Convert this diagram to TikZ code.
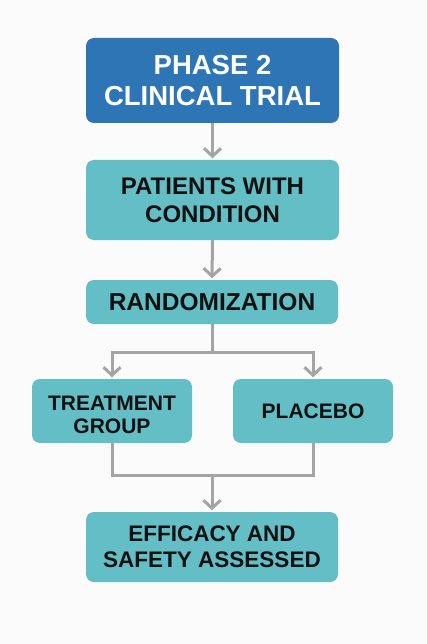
\documentclass[tikz,border=0pt]{standalone}
\usepackage{fontspec}
\setmainfont{Liberation Sans}
\usetikzlibrary{arrows.meta}
\definecolor{bg}{HTML}{FBFBFB}
\definecolor{topblue}{HTML}{2E75B6}
\definecolor{teal}{HTML}{63BEC6}
\definecolor{conn}{HTML}{A4A4A4}
\definecolor{ink}{HTML}{111111}
\begin{document}
\begin{tikzpicture}[x=1pt,y=-1pt,
  box/.style={rectangle, rounded corners=8pt, fill=teal, text=ink, align=center, inner sep=0pt, font=\bfseries},
  conline/.style={draw=conn, line width=3pt},
  arr/.style={conline, -{Straight Barb[length=8pt,width=17pt,line width=3pt]}, shorten >=1.5pt}]
\fill[bg] (0,0) rectangle (426,644);
\useasboundingbox (0,0) rectangle (426,644);
\node[box, fill=topblue, text=white, minimum width=253pt, minimum height=85pt,
  font=\fontsize{27.5}{31}\bfseries\selectfont] (phase) at (212.5,80.5) {PHASE 2\\CLINICAL TRIAL};
\node[box, minimum width=253pt, minimum height=80pt,
  font=\fontsize{24}{28}\bfseries\selectfont] (pat) at (212.5,200) {PATIENTS WITH\\CONDITION};
\node[box, minimum width=252pt, minimum height=44pt,
  font=\fontsize{24.5}{28}\bfseries\selectfont] (rand) at (212,302) {RANDOMIZATION};
\node[box, minimum width=160pt, minimum height=64pt,
  font=\fontsize{21}{23}\bfseries\selectfont] (treat) at (112,411) {\rule{0pt}{6pt}\\[-6pt]TREATMENT\\GROUP};
\node[box, minimum width=160pt, minimum height=64pt,
  font=\fontsize{21}{23}\bfseries\selectfont] (plac) at (313,411) {PLACEBO};
\node[box, minimum width=252pt, minimum height=70pt,
  font=\fontsize{22.5}{26}\bfseries\selectfont] (eff) at (212,547) {EFFICACY AND\\SAFETY ASSESSED};
\coordinate (j1) at (212,352);
\coordinate (j2) at (212,475);
\draw[arr] (phase.south) -- (pat.north);
\draw[arr] (pat.south) -- (rand.north);
\draw[conline] (rand.south) -- (j1);
\draw[arr] (j1) -| (treat.north);
\draw[arr] (j1) -| (plac.north);
\draw[conline] (treat.south) |- (j2);
\draw[conline] (plac.south) |- (j2);
\draw[arr] (j2) -- (eff.north);
\end{tikzpicture}
\end{document}
